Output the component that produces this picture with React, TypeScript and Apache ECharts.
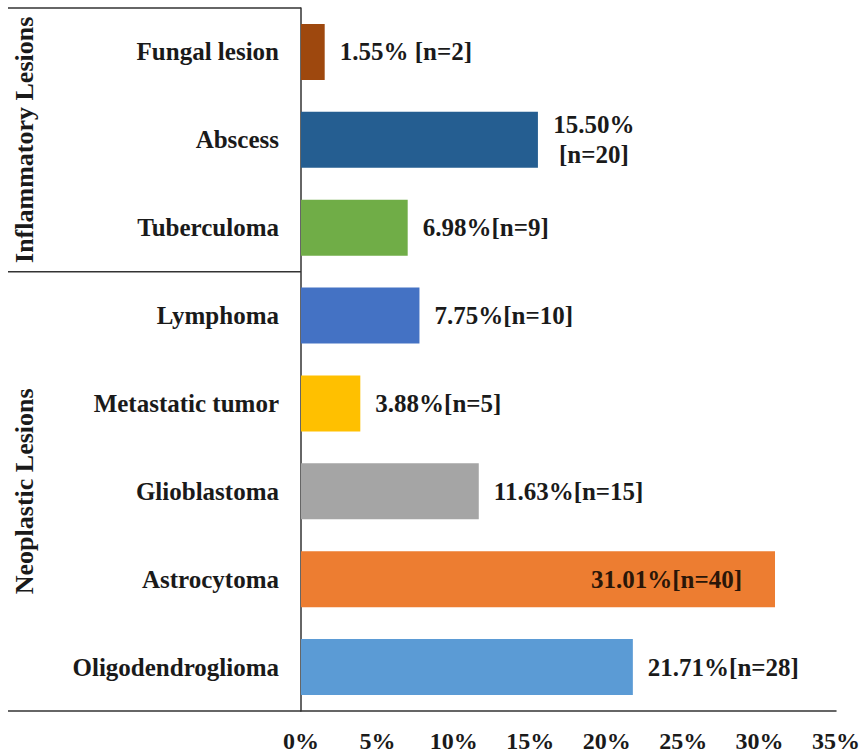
import React, { useEffect, useRef } from "react";
import * as echarts from "echarts";

const categories = [
  "Fungal lesion",
  "Abscess",
  "Tuberculoma",
  "Lymphoma",
  "Metastatic tumor",
  "Glioblastoma",
  "Astrocytoma",
  "Oligodendroglioma",
];
const percentValues = [1.55, 15.5, 6.98, 7.75, 3.88, 11.63, 31.01, 21.71];
const valueLabels = [
  "1.55% [n=2]",
  "{c|15.50%}\n{c|[n=20]}",
  "6.98%[n=9]",
  "7.75%[n=10]",
  "3.88%[n=5]",
  "11.63%[n=15]",
  "31.01%[n=40]",
  "21.71%[n=28]",
];
const barColors = [
  "#9E480E",
  "#255E91",
  "#70AD47",
  "#4472C4",
  "#FFC000",
  "#A5A5A5",
  "#ED7D31",
  "#5B9BD5",
];
const groups = [
  { name: "Inflammatory Lesions", from: 0, to: 2 },
  { name: "Neoplastic Lesions", from: 3, to: 7 },
];
const xTicks = { min: 0, max: 35, interval: 5 };

const FONT = "'Times New Roman', 'Liberation Serif', serif";
const TEXT = "#1a1a1a";

export default function App() {
  const ref = useRef<HTMLDivElement>(null);
  useEffect(() => {
    if (!ref.current) return;
    const chart = echarts.init(ref.current, null, { renderer: "svg" });
    const gridLeft = 301;
    const gridTop = 8;
    const gridBottom = 44;
    const option: any = {
      animation: false,
      backgroundColor: "#ffffff",
      grid: { left: gridLeft, right: 27, top: gridTop, bottom: gridBottom, containLabel: false },
      xAxis: {
        type: "value",
        min: xTicks.min,
        max: xTicks.max,
        interval: xTicks.interval,
        axisLine: { show: true, lineStyle: { color: "#333", width: 1.5 } },
        axisTick: { show: false },
        splitLine: { show: false },
        axisLabel: {
          formatter: "{value}%",
          fontFamily: FONT,
          fontWeight: "bold",
          fontSize: 24,
          color: TEXT,
          margin: 18,
          showMaxLabel: true,
        },
      },
      yAxis: {
        type: "category",
        inverse: true,
        data: categories,
        axisLine: { show: true, lineStyle: { color: "#333", width: 1.5 } },
        axisTick: { show: false },
        axisLabel: {
          fontFamily: FONT,
          fontWeight: "bold",
          fontSize: 25,
          color: TEXT,
          margin: 22,
        },
      },
      series: [
        {
          type: "bar",
          barWidth: 56,
          data: percentValues.map((v, i) => {
            const item: any = {
              value: v,
              itemStyle: { color: barColors[i] },
            };
            if (i === 6) {
              item.label = {
                position: "insideRight",
                distance: 33,
                align: "right",
                color: "#2a1608",
              };
            }
            return item;
          }),
          label: {
            show: true,
            position: "right",
            distance: 15,
            formatter: (p: any) => valueLabels[p.dataIndex],
            fontFamily: FONT,
            fontWeight: "bold",
            fontSize: 25,
            lineHeight: 30,
            color: TEXT,
            rich: {
              c: {
                width: 82,
                align: "center",
                fontFamily: FONT,
                fontWeight: "bold",
                fontSize: 25,
                lineHeight: 30,
                color: TEXT,
              },
            },
          },
        },
      ],
    };
    chart.setOption(option);

    const yOf = (idx: number) => chart.convertToPixel({ yAxisIndex: 0 }, idx) as number;
    const bandTop = (idx: number) => (idx === 0 ? gridTop : (yOf(idx - 1) + yOf(idx)) / 2);
    const axisY = 755 - gridBottom;
    const bandBottom = (idx: number) =>
      idx === categories.length - 1 ? axisY : (yOf(idx) + yOf(idx + 1)) / 2;

    const lineStyle = { stroke: "#333", lineWidth: 1.5 };
    const graphics: any[] = [
      { type: "line", shape: { x1: 8, y1: gridTop, x2: gridLeft, y2: gridTop }, style: lineStyle },
      { type: "line", shape: { x1: 8, y1: axisY, x2: gridLeft, y2: axisY }, style: lineStyle },
    ];
    groups.forEach((g, gi) => {
      const t = bandTop(g.from);
      const b = bandBottom(g.to);
      if (gi > 0) {
        graphics.push({
          type: "line",
          shape: { x1: 8, y1: t, x2: gridLeft, y2: t },
          style: lineStyle,
        });
      }
      graphics.push({
        type: "text",
        x: 24,
        y: (t + b) / 2,
        rotation: Math.PI / 2,
        style: {
          text: g.name,
          fontFamily: FONT,
          fontWeight: "bold",
          fontSize: 26,
          fill: TEXT,
          align: "center",
          verticalAlign: "middle",
        },
      });
    });
    chart.setOption({ graphic: graphics });

    return () => chart.dispose();
  }, []);
  return <div ref={ref} style={{ width: 863, height: 755, position: "absolute", left: 0, top: 0 }} />;
}
